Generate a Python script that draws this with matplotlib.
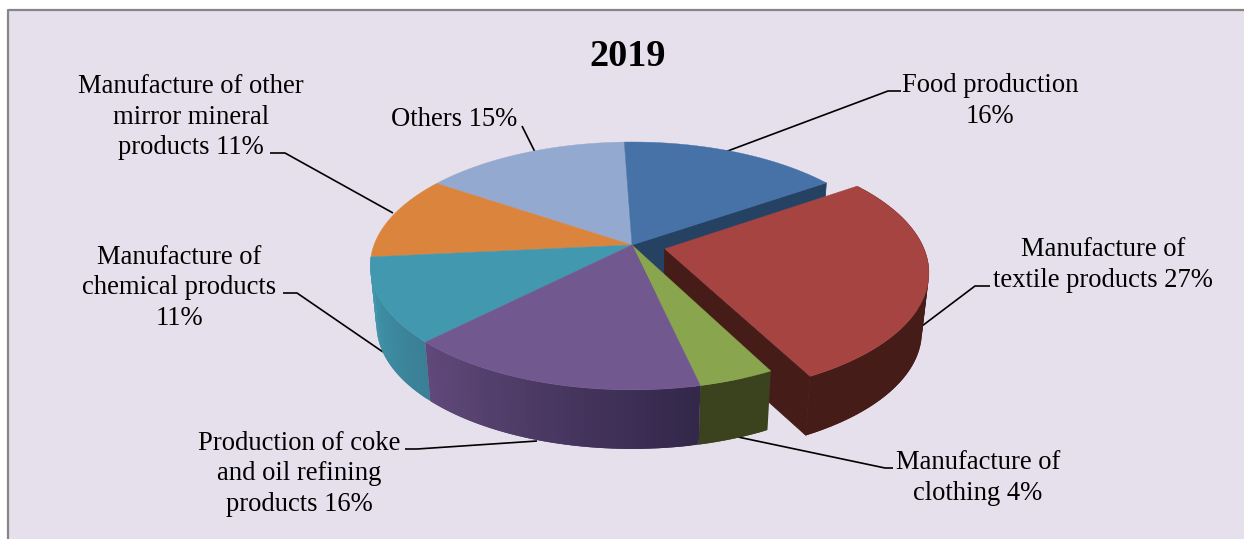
import numpy as np
import matplotlib
matplotlib.use("Agg")
import matplotlib.pyplot as plt
from matplotlib.patches import Polygon
from matplotlib.colors import to_rgb

plt.rcParams['font.family'] = ['Liberation Serif', 'DejaVu Serif']

# shares in percent, clockwise from twelve o'clock
names = ["Food production\n16%",
         "Manufacture of\ntextile products 27%",
         "Manufacture of\nclothing 4%",
         "Production of coke\nand oil refining\nproducts 16%",
         "Manufacture of\nchemical products\n11%",
         "Manufacture of other\nmirror mineral\nproducts 11%",
         "Others 15%"]
shares = [16, 27, 4, 16, 11, 11, 15]
top_colors = ["#4672A8", "#A64442", "#89A54E", "#71588F", "#4198AF", "#DB843D", "#93A9CF"]
# wall colour at the start and at the end of each slice
wall_colors = [("#264263", "#264263"), ("#461C19", "#461C19"), ("#3A431E", "#3A431E"),
               ("#33274A", "#60497A"), ("#3A7F95", "#419AB0"), ("#A8652C", "#A8652C"),
               ("#6F81A0", "#6F81A0")]

label_pos = [(990, 101), (1103, 265), (978, 478), (299, 474), (179, 288), (191, 117), (454, 119)]
leaders = [[(725, 152), (888, 91), (901, 91)],
           [(922, 326), (975, 286), (990, 286)],
           [(738, 437), (885, 468), (893, 468)],
           [(537, 441), (417, 449), (405, 449)],
           [(383, 352), (297, 293), (283, 293)],
           [(393, 213), (285, 153), (270, 153)],
           [(535, 152), (522, 126)]]

# pie geometry in pixels
cx, cy = 632, 245
rx, ry = 258, 120.4
persp = 0.169
depth = 59
shrink = 0.976
explode = {1: 0.13}
start_angle = -2.0
# these slices sit at the back, their rim wall is never seen
no_rim_wall = [0, 5, 6]


def project(u, v, bottom=False):
    # perspective projection of a point on the unit disc
    w = 1 + persp * v
    x = rx * u / w
    y = ry * v / w
    if bottom:
        return cx + x * shrink, cy - y + depth
    return cx + x, cy - y


def rim(a0, a1, u0, v0, bottom=False, n=60):
    t = np.radians(np.linspace(a0, a1, n))
    return project(u0 + np.sin(t), v0 + np.cos(t), bottom)


def mix(c0, c1, f):
    c0, c1 = np.array(to_rgb(c0)), np.array(to_rgb(c1))
    return tuple(c0 + (c1 - c0) * f)


def cut_face(angle, u0, v0, color, z):
    xe, ye = rim(angle, angle, u0, v0, n=1)
    xb, yb = rim(angle, angle, u0, v0, bottom=True, n=1)
    pts = [project(u0, v0), (xe[0], ye[0]), (xb[0], yb[0]), project(u0, v0, bottom=True)]
    ax.add_patch(Polygon(pts, closed=True, facecolor=color, edgecolor=color, lw=0.6, zorder=z))


fig = plt.figure(figsize=(12.44, 5.39), dpi=100, facecolor="white")
ax = fig.add_axes([0, 0, 1, 1])
ax.set_xlim(0, 1244)
ax.set_ylim(539, 0)
ax.axis("off")

# chart area, open at the bottom and the right
ax.add_patch(Polygon([(8, 539), (8, 10), (1244, 10), (1244, 539)], closed=True,
                     facecolor="#E6E0EC", edgecolor="none", zorder=0))
ax.plot([8, 8, 1244], [539, 10, 10], color="#868686", lw=1.6, zorder=1)

edges = start_angle + np.concatenate([[0], np.cumsum(shares)]) * 3.6
slices = []
for i in range(len(shares)):
    a0, a1 = edges[i], edges[i + 1]
    mid = np.radians((a0 + a1) / 2)
    e = explode.get(i, 0)
    slices.append((a0, a1, e * np.sin(mid), e * np.cos(mid)))

# back slices first, the exploded slice before its front neighbours
z = 2
for i in [6, 5, 0, 1, 4, 2, 3]:
    a0, a1, u0, v0 = slices[i]
    # cut faces that look towards the viewer
    if i in (0, 1):
        cut_face(a1, u0, v0, wall_colors[i][0], z)
    # outer wall in overlapping strips so the shade can change along the rim
    if i not in no_rim_wall:
        steps = np.linspace(a0, a1, 41)
        for k in range(40):
            end = steps[min(k + 2, 40)]
            xt, yt = rim(steps[k], end, u0, v0, n=5)
            xb, yb = rim(steps[k], end, u0, v0, bottom=True, n=5)
            col = mix(wall_colors[i][0], wall_colors[i][1], k / 39)
            pts = np.column_stack([np.r_[xt, xb[::-1]], np.r_[yt, yb[::-1]]])
            ax.add_patch(Polygon(pts, closed=True, facecolor=col, edgecolor="none", zorder=z))
    # top face
    xt, yt = rim(a0, a1, u0, v0)
    apex = project(u0, v0)
    pts = np.vstack([[apex], np.column_stack([xt, yt])])
    ax.add_patch(Polygon(pts, closed=True, facecolor=top_colors[i], edgecolor=top_colors[i],
                         lw=0.3, zorder=z + 0.5))
    z += 1

for line in leaders:
    xs, ys = zip(*line)
    ax.plot(xs, ys, color="black", lw=1.2, zorder=1.5, solid_capstyle="butt")

for name, (x, y) in zip(names, label_pos):
    ax.text(x, y, name, ha="center", va="center", fontsize=19.2, color="black",
            linespacing=1.295, zorder=20)

ax.text(628, 56, "2019", ha="center", va="center", fontsize=27.5, fontweight="bold",
        color="black", zorder=20)

fig.savefig("out.png", dpi=100, facecolor=fig.get_facecolor())
